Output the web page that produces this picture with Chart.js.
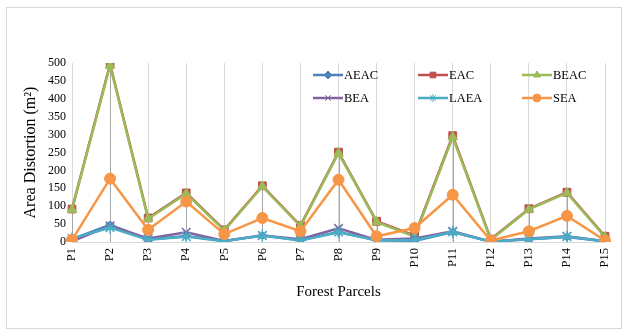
<!DOCTYPE html>
<html>
<head>
<meta charset="utf-8">
<script src="https://cdn.jsdelivr.net/npm/chart.js@4"></script>
<style>
  body { margin: 0; background: #fff; }
  #wrap { position: relative; width: 627px; height: 331px; }
</style>
</head>
<body>
<div id="wrap"><canvas id="chart" width="627" height="331"></canvas></div>
<script>
// Data
const parcels = ['P1','P2','P3','P4','P5','P6','P7','P8','P9','P10','P11','P12','P13','P14','P15'];
const aeac = [8, 48, 7, 17, 3, 18, 5, 28, 5, 3, 28, 1, 8, 14, 2];
const eac  = [92, 497, 67, 137, 34, 157, 46, 251, 58, 18, 297, 8, 93, 139, 16];
const beac = [90, 493, 65, 135, 32, 155, 44, 248, 56, 15, 293, 6, 91, 137, 14];
const bea  = [2, 45, 10, 27, 3, 18, 8, 38, 6, 10, 30, 1, 10, 16, 2];
const laea = [10, 40, 6, 15, 2, 18, 4, 27, 5, 5, 28, 1, 8, 15, 2];
const sea  = [6, 177, 34, 113, 22, 67, 30, 174, 16, 39, 132, 4, 30, 73, 4];
const yTicks = [0, 50, 100, 150, 200, 250, 300, 350, 400, 450, 500];

const serif = "'Liberation Serif', 'Times New Roman', serif";

function series(label, data, color, style, radius, order) {
    return {
        label: label,
        data: data,
        borderColor: color,
        backgroundColor: color,
        pointBorderColor: color,
        pointBackgroundColor: color,
        pointStyle: style,
        pointRadius: radius,
        pointBorderWidth: (style === 'crossRot' || style === 'star') ? 1.5 : 1,
        borderWidth: 2.5,
        tension: 0,
        order: order
    };
}

const datasets = [
    series('AEAC', aeac, '#4F81BD', 'rectRot', 4, 6),
    series('EAC', eac, '#C0504D', 'rect', 5.5, 5),
    series('BEAC', beac, '#9BBB59', 'triangle', 5.5, 4),
    series('BEA', bea, '#8064A2', 'crossRot', 6, 3),
    series('LAEA', laea, '#4BACC6', 'star', 6, 2),
    series('SEA', sea, '#F79646', 'circle', 5.5, 1)
];

// frame round the whole chart
const framePlugin = {
    id: 'frame',
    beforeDraw(chart) {
        const ctx = chart.ctx;
        ctx.save();
        ctx.strokeStyle = '#d9d9d9';
        ctx.lineWidth = 1;
        ctx.strokeRect(6.5, 7.5, 615, 321);
        ctx.restore();
    }
};

// Excel style drop lines from the highest point down to the axis
const dropLines = {
    id: 'dropLines',
    beforeDatasetsDraw(chart) {
        const ctx = chart.ctx;
        const x = chart.scales.x, y = chart.scales.y;
        ctx.save();
        ctx.strokeStyle = '#a6a6a6';
        ctx.lineWidth = 1;
        parcels.forEach((p, i) => {
            const top = Math.max(aeac[i], eac[i], beac[i], bea[i], laea[i], sea[i]);
            const px = Math.round(x.getPixelForValue(i)) + 0.5;
            ctx.beginPath();
            ctx.moveTo(px, y.getPixelForValue(top));
            ctx.lineTo(px, y.getPixelForValue(0));
            ctx.stroke();
        });
        ctx.restore();
    }
};

// legend in two rows of three, inside the plot
const gridLegend = {
    id: 'gridLegend',
    afterDraw(chart) {
        const ctx = chart.ctx;
        const cols = [313, 418, 522];
        const rows = [75, 98];
        ctx.save();
        ctx.font = '12.5px ' + serif;
        ctx.textBaseline = 'middle';
        datasets.forEach((ds, i) => {
            const lx = cols[i % 3], ly = rows[Math.floor(i / 3)];
            ctx.strokeStyle = ds.borderColor;
            ctx.fillStyle = ds.borderColor;
            ctx.lineWidth = 2.5;
            ctx.beginPath();
            ctx.moveTo(lx, ly);
            ctx.lineTo(lx + 30, ly);
            ctx.stroke();
            ctx.lineWidth = 1;
            Chart.helpers.drawPoint(ctx, {
                pointStyle: ds.pointStyle,
                radius: Math.min(ds.pointRadius, 4),
                rotation: 0,
                borderWidth: 1
            }, lx + 15, ly);
            ctx.fillStyle = '#000';
            ctx.fillText(ds.label, lx + 31, ly + 1);
        });
        ctx.restore();
    }
};

const ctx = document.getElementById('chart').getContext('2d');
const chart = new Chart(ctx, {
    type: 'line',
    data: { labels: parcels, datasets: datasets },
    options: {
        responsive: false,
        animation: false,
        layout: { padding: { top: 63, right: 22, bottom: 0, left: 0 } },
        plugins: {
            legend: { display: false },
            tooltip: { enabled: false }
        },
        scales: {
            x: {
                offset: false,
                grid: { display: true, color: '#d9d9d9', drawTicks: false },
                border: { display: true, color: '#d9d9d9' },
                ticks: {
                    autoSkip: false,
                    minRotation: 90,
                    maxRotation: 90,
                    padding: 6,
                    color: '#000',
                    font: { family: serif, size: 12.5 }
                },
                title: {
                    display: true,
                    text: 'Forest Parcels',
                    color: '#000',
                    font: { family: serif, size: 15 },
                    padding: { top: 0, bottom: 30 }
                },
                afterFit(scale) { scale.height = 89; }
            },
            y: {
                min: 0,
                max: 500,
                afterBuildTicks(scale) { scale.ticks = yTicks.map(v => ({ value: v })); },
                grid: { display: false, drawTicks: false },
                border: { display: false },
                ticks: {
                    autoSkip: false,
                    stepSize: 50,
                    padding: 6,
                    color: '#000',
                    font: { family: serif, size: 12 }
                },
                title: {
                    display: true,
                    text: 'Area Distortion (m²)',
                    color: '#000',
                    font: { family: serif, size: 16 },
                    padding: { top: 21, bottom: 0 }
                },
                afterFit(scale) { scale.width = 72; }
            }
        }
    },
    plugins: [framePlugin, dropLines, gridLegend]
});
</script>
</body>
</html>
